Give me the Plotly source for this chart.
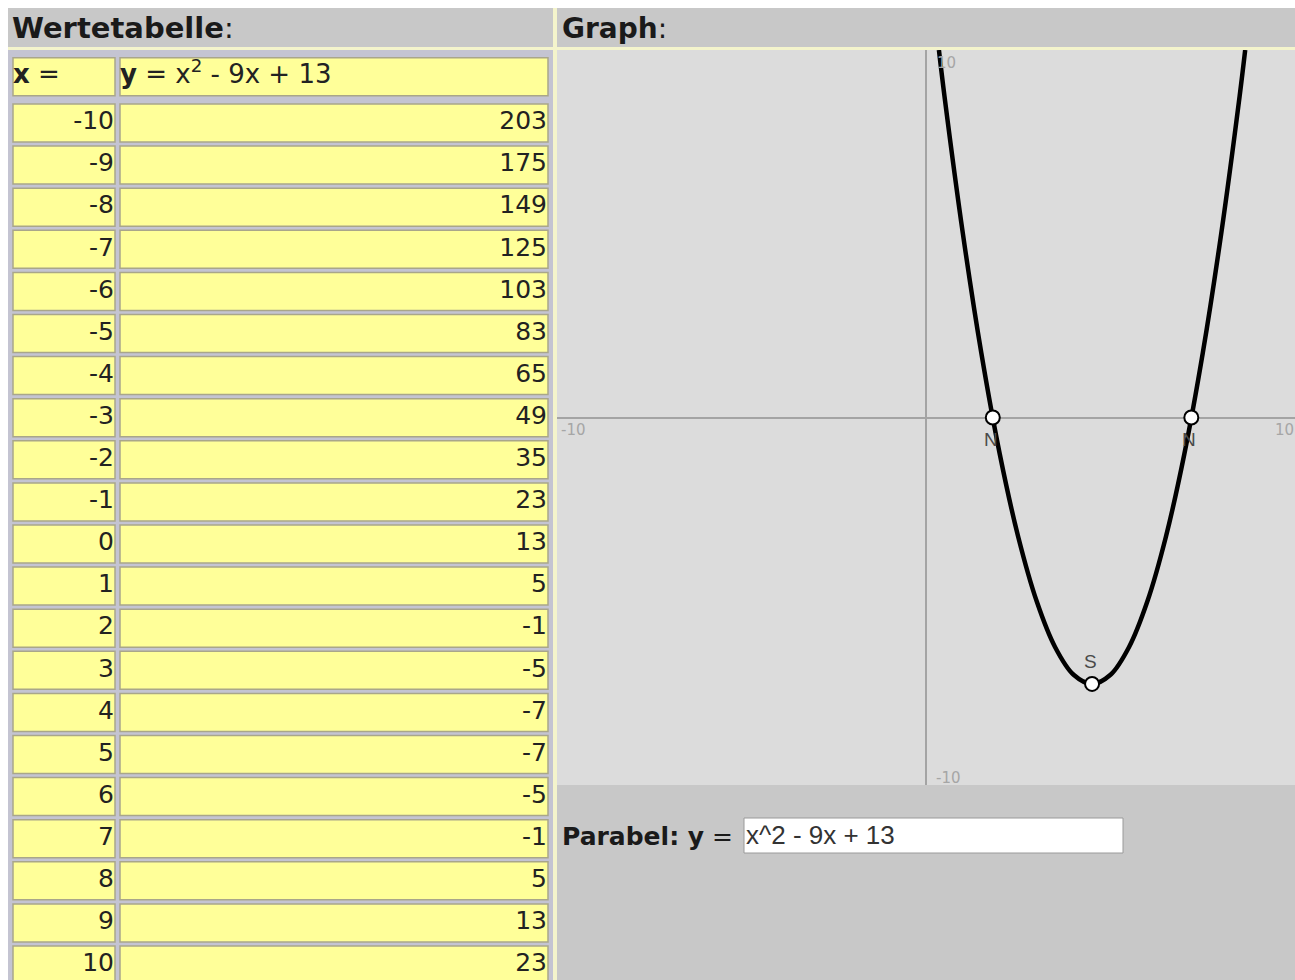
import plotly.graph_objects as go

# ---------------- data ----------------
x_values = [-10, -9, -8, -7, -6, -5, -4, -3, -2, -1, 0, 1, 2, 3, 4, 5, 6, 7, 8, 9, 10]
y_values = [203, 175, 149, 125, 103, 83, 65, 49, 35, 23, 13, 5, -1, -5, -7, -7, -5, -1, 5, 13, 23]
curve_x = [0.35, 0.5, 1.0, 1.5, 2.0, 2.5, 3.0, 3.5, 4.0, 4.5, 5.0, 5.5, 6.0, 6.5, 7.0, 7.5, 8.0, 8.5, 8.65]
curve_y = [10.0, 8.75, 5.0, 1.75, -1.0, -3.25, -5.0, -6.25, -7.0, -7.25, -7.0, -6.25, -5.0, -3.25, -1.0, 1.75, 5.0, 8.75, 10.0]
special_x = [1.81, 7.19, 4.5]
special_y = [0, 0, -7.25]
special_labels = ["N", "N", "S"]
header_x = "<b>x</b> ="
header_y = "<b>y</b> = x<sup>2</sup> - 9x + 13"
formula_text = "x^2 - 9x + 13"

W, H = 1295, 980
def px(x):
    return x / W
def py(y):
    return 1 - y / H

fig = go.Figure()

# ---------------- graph (right) ----------------
fig.add_trace(go.Scatter(
    x=curve_x, y=curve_y, mode="lines",
    line=dict(color="black", width=4.5, shape="spline", smoothing=1),
    xaxis="x", yaxis="y", hoverinfo="skip", showlegend=False))

fig.add_trace(go.Scatter(
    x=special_x, y=special_y, mode="markers",
    marker=dict(size=14, color="white", line=dict(color="black", width=2)),
    xaxis="x", yaxis="y", hoverinfo="skip", showlegend=False))

# ---------------- table (left) ----------------
rows_data = list(range(1, len(x_values) + 1))
header_row = -0.1
rows_all = [header_row] + rows_data
row_px = 42.1
first_row_center = 123
cell_h = 38 / row_px
col_x = (13, 115)
col_y = (120, 548)

for (c0, c1) in (col_x, col_y):
    fig.add_trace(go.Bar(
        y=rows_all, x=[c1 - c0] * len(rows_all), base=[c0] * len(rows_all),
        orientation="h", width=cell_h,
        marker=dict(color="#FFFF99", line=dict(color="#A9A68A", width=1.5)),
        xaxis="x2", yaxis="y2", hoverinfo="skip", showlegend=False))

num_font = dict(family="DejaVu Sans", size=25, color="#222222")
fig.add_trace(go.Scatter(
    x=[col_x[1] - 1] * len(rows_data), y=rows_data, mode="text",
    text=[str(v) for v in x_values], textposition="middle left",
    textfont=num_font,
    xaxis="x2", yaxis="y2", hoverinfo="skip", showlegend=False))
fig.add_trace(go.Scatter(
    x=[col_y[1] - 1] * len(rows_data), y=rows_data, mode="text",
    text=[str(v) for v in y_values], textposition="middle left",
    textfont=num_font,
    xaxis="x2", yaxis="y2", hoverinfo="skip", showlegend=False))
fig.add_trace(go.Scatter(
    x=[col_x[0], col_y[0]], y=[header_row, header_row], mode="text",
    text=[header_x, header_y], textposition="middle right",
    textfont=dict(family="DejaVu Sans", size=26, color="#222222"),
    xaxis="x2", yaxis="y2", hoverinfo="skip", showlegend=False))

# ---------------- shapes ----------------
shapes = []
def rect(x0, y0, x1, y1, color, line=None, layer="below"):
    d = dict(type="rect", xref="paper", yref="paper",
             x0=px(x0), x1=px(x1), y0=py(y1), y1=py(y0),
             fillcolor=color, layer=layer, line=dict(width=0))
    if line:
        d["line"] = line
    shapes.append(d)

rect(0, 0, W, 8, "white")
rect(0, 0, 8, H, "white")
rect(8, 50, 553, H, "#C4C4D2")          # table background
rect(557, 50, W, 785, "#DCDCDC")        # graph area
rect(553, 8, 557, H, "#F4F4CC")         # pale separator vertical
rect(8, 47, W, 50, "#F4F4CC")           # pale separator horizontal
rect(744, 818, 1123, 853, "white", line=dict(color="#9A9A9A", width=1))
fig.update_layout(shapes=shapes)

# ---------------- annotations ----------------
ann = []
ann.append(dict(text="<b>Wertetabelle</b>:", xref="paper", yref="paper",
                x=px(10), y=py(28), xanchor="left", yanchor="middle", showarrow=False,
                font=dict(family="DejaVu Sans", size=29, color="#1A1A1A")))
ann.append(dict(text="<b>Graph</b>:", xref="paper", yref="paper",
                x=px(560), y=py(28), xanchor="left", yanchor="middle", showarrow=False,
                font=dict(family="DejaVu Sans", size=28, color="#1A1A1A")))
ann.append(dict(text="<b>Parabel: y</b> =", xref="paper", yref="paper",
                x=px(560), y=py(836), xanchor="left", yanchor="middle", showarrow=False,
                font=dict(family="DejaVu Sans", size=25, color="#1A1A1A")))
ann.append(dict(text=formula_text, xref="paper", yref="paper",
                x=px(744), y=py(835), xanchor="left", yanchor="middle", showarrow=False,
                font=dict(family="Liberation Sans Narrow, Liberation Sans", size=26, color="#333333")))

label_font = dict(family="Liberation Sans, Arial", size=19, color="#4A4A4A")
for lx, ly, lt in zip(special_x, special_y, special_labels):
    shift = -22 if lt == "N" else 22
    ann.append(dict(text=lt, xref="x", yref="y", x=lx, y=ly, showarrow=False,
                    xanchor="center", yanchor="middle", xshift=-2, yshift=shift,
                    font=label_font))

tick_style = dict(family="DejaVu Sans", size=15, color="#A6A6A6")
for t, xx, yy in [("-10", -9.55, -0.35), ("10", 9.72, -0.35), ("10", 0.55, 9.65), ("-10", 0.6, -9.8)]:
    ann.append(dict(text=t, xref="x", yref="y", x=xx, y=yy, showarrow=False,
                    xanchor="center", yanchor="middle", font=tick_style))
fig.update_layout(annotations=ann)

# ---------------- layout ----------------
fig.update_layout(
    width=W, height=H,
    margin=dict(l=0, r=0, t=0, b=0),
    paper_bgcolor="#C8C8C8",
    plot_bgcolor="rgba(0,0,0,0)",
    barmode="overlay",
    xaxis=dict(domain=[px(557), 1], range=[-10, 10], showgrid=False,
               zeroline=True, zerolinecolor="#A4A4A4", zerolinewidth=2,
               showticklabels=False, ticks="", fixedrange=True),
    yaxis=dict(domain=[py(785), py(50)], range=[-10, 10], showgrid=False,
               zeroline=True, zerolinecolor="#A4A4A4", zerolinewidth=2,
               showticklabels=False, ticks="", fixedrange=True),
    xaxis2=dict(domain=[0, px(553)], range=[0, 553], visible=False, fixedrange=True),
    yaxis2=dict(domain=[0, py(52)],
                range=[(H - (first_row_center - row_px)) / row_px,
                       (52 - (first_row_center - row_px)) / row_px],
                visible=False, fixedrange=True),
)

fig.write_html("out.html",
               config={"displayModeBar": False},
               post_script="document.body.style.margin='0';document.body.style.overflow='hidden';")
